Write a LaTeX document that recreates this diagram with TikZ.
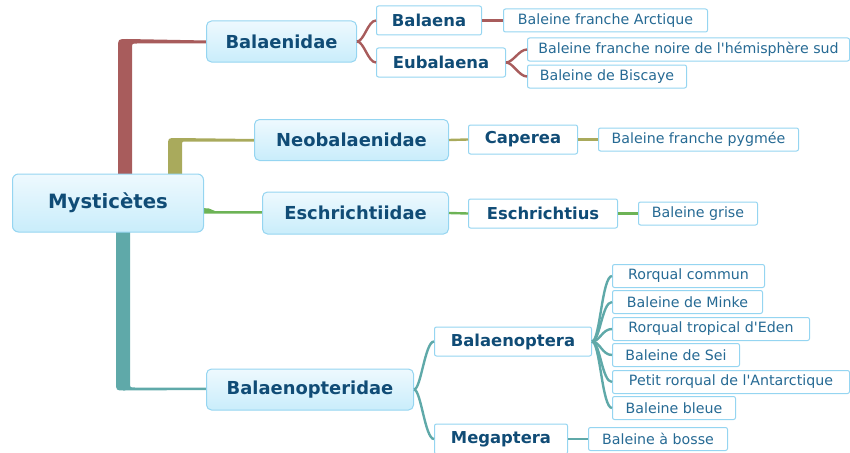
\documentclass[tikz,border=0pt]{standalone}
\usepackage{fontspec}
\setmainfont{DejaVu Sans}[Ligatures=TeXOff]
\definecolor{cRed}{HTML}{A85C5C}
\definecolor{cOlive}{HTML}{A9AA5C}
\definecolor{cGreen}{HTML}{6DB356}
\definecolor{cTeal}{HTML}{5FA9A9}
\definecolor{bBorder}{HTML}{95D5F1}
\definecolor{bTop}{HTML}{EEF9FE}
\definecolor{bBot}{HTML}{C9EDFB}
\definecolor{tDark}{HTML}{104C76}
\definecolor{tLeaf}{HTML}{266A94}
\tikzset{
  rootbox/.style={draw=bBorder, line width=1pt, rounded corners=6pt, top color=bTop, bottom color=bBot,
    anchor=west, minimum height=58pt, inner sep=0pt, text=tDark, font=\fontsize{19.7}{22}\selectfont\bfseries},
  famboxe/.style={draw=bBorder, line width=1pt, rounded corners=5pt, top color=bTop, bottom color=bBot,
    anchor=west, minimum height=41pt, inner sep=0pt, text=tDark, font=\fontsize{17.9}{20}\selectfont\bfseries},
  genbox/.style={draw=bBorder, line width=1pt, rounded corners=2pt, fill=white,
    anchor=west, minimum height=29pt, inner sep=0pt, text=tDark, font=\fontsize{16.4}{19}\selectfont\bfseries},
  leafbox/.style={draw=bBorder, line width=1pt, rounded corners=2pt, fill=white,
    anchor=west, minimum height=23pt, inner sep=0pt, text=tLeaf, font=\fontsize{14.2}{16}\selectfont},
  lnk/.style={line width=2.4pt},
}
\begin{document}
\begin{tikzpicture}[x=1pt,y=-1pt]
\useasboundingbox (0,0) rectangle (850,452);
% trunks
\fill[cRed] (118,176) -- (118,48) .. controls (118,39) .. (127,39) -- (207,40.5) -- (207,43.5) -- (137,43.5) .. controls (132,43.5) .. (132,48.5) -- (132,176) -- cycle;
\fill[cOlive] (168,176) -- (168,146) .. controls (168,138) .. (176,138) -- (255,139) -- (255,141.5) -- (186,141.5) .. controls (182,141.5) .. (182,145.5) -- (182,176) -- cycle;
\fill[cTeal] (116,230) -- (116,382) .. controls (116,390.5) .. (124,390.5) -- (207,390) -- (207,387.5) -- (135,387.5) .. controls (130,387.5) .. (130,382.5) -- (130,230) -- cycle;
\fill[cGreen] (202,208) -- (209,208.5) .. controls (212,209) .. (215,211) -- (263,211) -- (263,213.5) -- (202,213.5) -- cycle;

% nodes
\node[rootbox, minimum width=191pt] (root) at (12,203) {Mysticètes};
\node[famboxe, minimum width=150pt] (bal) at (206,41.5) {Balaenidae};
\node[famboxe, minimum width=194pt] (neo) at (254,140) {Neobalaenidae};
\node[famboxe, minimum width=186pt, minimum height=42pt] (esc) at (262,213) {Eschrichtiidae};
\node[famboxe, minimum width=207pt] (bpt) at (206,389.5) {Balaenopteridae};

\node[genbox, minimum width=105pt] (balaena) at (376,20.5) {Balaena};
\node[genbox, minimum width=129pt] (eubal) at (376,62.5) {Eubalaena};
\node[genbox, minimum width=109pt] (caperea) at (468,139.5) {Caperea};
\node[genbox, minimum width=149pt] (eschr) at (468,213.5) {Eschrichtius};
\node[genbox, minimum width=157pt] (balnop) at (434,341.5) {Balaenoptera};
\node[genbox, minimum width=133pt, minimum height=30pt] (mega) at (434,439) {Megaptera};

\node[leafbox, minimum width=204pt] (l1) at (503,20.5) {Baleine franche Arctique};
\node[leafbox, minimum width=322pt] (l2) at (527,49.5) {Baleine franche noire de l'hémisphère sud};
\node[leafbox, minimum width=159pt] (l3) at (527,76.5) {Baleine de Biscaye};
\node[leafbox, minimum width=200pt] (l4) at (598,139.5) {Baleine franche pygmée};
\node[leafbox, minimum width=119pt] (l5) at (638,213.5) {Baleine grise};
\node[leafbox, minimum width=152pt] (r1) at (612,276) {Rorqual commun};
\node[leafbox, minimum width=150pt] (r2) at (612,302) {Baleine de Minke};
\node[leafbox, minimum width=197pt] (r3) at (612,329) {Rorqual tropical d'Eden};
\node[leafbox, minimum width=127pt] (r4) at (612,355) {Baleine de Sei};
\node[leafbox, minimum width=237pt] (r5) at (612,382) {Petit rorqual de l'Antarctique};
\node[leafbox, minimum width=123pt] (r6) at (612,408) {Baleine bleue};
\node[leafbox, minimum width=139pt] (m1) at (588,439) {Baleine à bosse};

% connectors
\begin{scope}[lnk, cRed]
\draw (bal.east) .. controls +(7,0) and +(-8,0) .. (balaena.west);
\draw (bal.east) .. controls +(7,0) and +(-8,0) .. (eubal.west);
\draw (balaena.east) -- (l1.west);
\draw (eubal.east) .. controls +(7,0) and +(-8,0) .. (l2.west);
\draw (eubal.east) .. controls +(7,0) and +(-8,0) .. (l3.west);
\end{scope}
\begin{scope}[lnk, cOlive]
\draw (neo.east) -- (caperea.west);
\draw (caperea.east) -- (l4.west);
\end{scope}
\begin{scope}[lnk, cGreen]
\draw (esc.east) -- (eschr.west);
\draw (eschr.east) -- (l5.west);
\end{scope}
\begin{scope}[lnk, cTeal]
\draw (bpt.east) .. controls +(7,0) and +(-9,0) .. (balnop.west);
\draw (bpt.east) .. controls +(7,0) and +(-9,0) .. (mega.west);
\foreach \r in {r1,r2,r3,r4,r5,r6}
  \draw (balnop.east) .. controls +(8,0) and +(-10,0) .. (\r.west);
\draw (mega.east) -- (m1.west);
\end{scope}
\end{tikzpicture}
\end{document}
